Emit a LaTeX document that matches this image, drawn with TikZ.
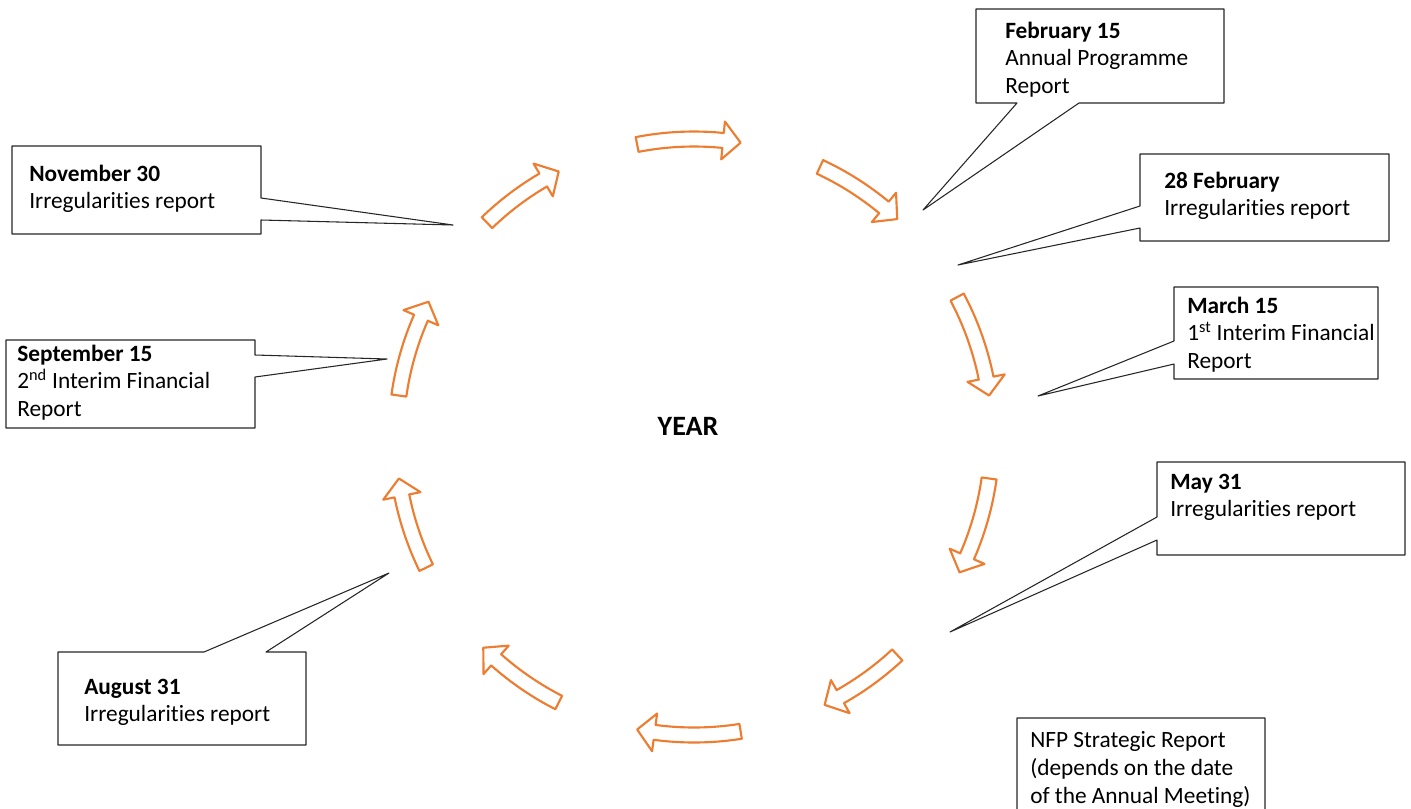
\documentclass[tikz,border=0pt]{standalone}
\usepackage{fontspec}
\setmainfont{Carlito}[Ligatures=NoCommon]
\definecolor{arroworange}{RGB}{237,125,49}
\begin{document}
\begin{tikzpicture}[x=0.75pt,y=-0.75pt,line join=round,font=\fontsize{17.5}{20.8}\selectfont,
	callout/.style={draw=black!85,line width=0.8pt},
	label/.style={anchor=north west,inner sep=0pt,align=left},
	cyclearrow/.style={draw=arroworange,line width=1.6pt,fill=white}]
	\useasboundingbox (0,0) rectangle (1411,808);
	\def\r{298}
	\def\w{7.5}
	\def\hw{19}
	\def\h{3.4}
	\path
	(694,437) coordinate (O)
	(453,225) coordinate (T_1)
	(387,359) coordinate (T_2)
	(389,573) coordinate (T_3)
	(923,210) coordinate (T_4)
	(958,265) coordinate (T_5)
	(1038,396) coordinate (T_6)
	(950,632) coordinate (T_7)
	;
	% arrows round the year
	\begin{scope}[shift={(O)}]
		\foreach \a/\b in {-134/-117,-101/-81,-65/-47,-28/-8,8/27,47/64,81/101,117/135,154/172,188/207}
		\draw[cyclearrow] (\a:\r+\w) arc[start angle=\a,end angle=\b-\h,radius=\r+\w] -- (\b-\h:\r+\hw) -- (\b:\r) -- (\b-\h:\r-\hw) -- (\b-\h:\r-\w) arc[start angle=\b-\h,end angle=\a,radius=\r-\w] -- cycle;
	\end{scope}
	\node[font=\fontsize{21}{25}\selectfont\bfseries] (Y) at (688,426) {YEAR};
	% callouts
	\draw[callout]
	(12,146)--(261,146)--(261,198)--(T_1)--(261,220)--(261,234)--(12,234)--cycle
	(6,340)--(255,340)--(255,355)--(T_2)--(255,377)--(255,428)--(6,428)--cycle
	(58,652)--(204,652)--(T_3)--(266,652)--(306,652)--(306,745)--(58,745)--cycle
	(976,9)--(1224,9)--(1224,103)--(1079,103)--(T_4)--(1017,103)--(976,103)--cycle
	(1140,154)--(1389,154)--(1389,241)--(1140,241)--(1140,228)--(T_5)--(1140,206)--cycle
	(1174,287)--(1378,287)--(1378,379)--(1174,379)--(1174,364)--(T_6)--(1174,341)--cycle
	(1157,462)--(1405,462)--(1405,555)--(1157,555)--(1157,540)--(T_7)--(1157,517)--cycle
	(1017,718) rectangle (1265,820)
	;
	\node[label] (L_1) at (29,164.5) {\textbf{November 30}\\Irregularities report};
	\node[label] (L_2) at (17,344.5) {\textbf{September 15}\\2\textsuperscript{nd} Interim Financial\\Report};
	\node[label] (L_3) at (84,678.5) {\textbf{August 31}\\Irregularities report};
	\node[label] (L_4) at (1005,21.5) {\textbf{February 15}\\Annual Programme\\Report};
	\node[label] (L_5) at (1164,171.5) {\textbf{28 February}\\Irregularities report};
	\node[label] (L_6) at (1187,296.5) {\textbf{March 15}\\1\textsuperscript{st} Interim Financial\\Report};
	\node[label] (L_7) at (1170,473.5) {\textbf{May 31}\\Irregularities report};
	\node[label] (L_8) at (1030,731.5) {NFP Strategic Report\\(depends on the date\\of the Annual Meeting)};
\end{tikzpicture}
\end{document}
